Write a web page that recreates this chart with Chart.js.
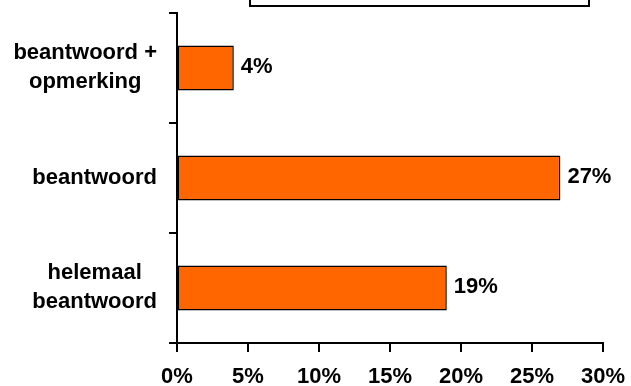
<!DOCTYPE html>
<html>
<head>
<meta charset="utf-8">
<script src="https://cdn.jsdelivr.net/npm/chart.js@4/dist/chart.umd.min.js"></script>
<style>
  html, body { margin: 0; padding: 0; background: #ffffff; }
  canvas { display: block; }
</style>
</head>
<body>
<canvas id="chart" width="631" height="386"></canvas>
<script>
// Answer categories (multi-line labels) and their shares in percent
const categories = [
  ['beantwoord +', 'opmerking'],
  ['beantwoord'],
  ['helemaal', 'beantwoord']
];
const percentages = [4, 27, 19];
const tickValues = [0, 5, 10, 15, 20, 25, 30];

const FONT = '"Liberation Sans", Arial, Helvetica, sans-serif';
const FONT_SIZE = 22;
const BAR_COLOR = '#ff6600';

// Empty framed legend box along the top edge
const legendFrame = {
  id: 'legendFrame',
  afterDraw(chart) {
    const ctx = chart.ctx;
    ctx.save();
    ctx.strokeStyle = '#000';
    ctx.lineWidth = 2;
    ctx.strokeRect(250, -10, 339, 16);
    ctx.restore();
  }
};

// Category labels: each block centred on itself, blocks right-aligned to the axis
const categoryLabels = {
  id: 'categoryLabels',
  afterDraw(chart) {
    const ctx = chart.ctx;
    const yScale = chart.scales.y;
    const right = chart.chartArea.left - 20;
    const lineHeight = 29;
    ctx.save();
    ctx.font = `bold ${FONT_SIZE}px ${FONT}`;
    ctx.fillStyle = '#000';
    ctx.textAlign = 'center';
    ctx.textBaseline = 'middle';
    categories.forEach((lines, i) => {
      const widest = Math.max(...lines.map(l => ctx.measureText(l).width));
      const cx = right - widest / 2;
      const cy = yScale.getPixelForValue(i);
      const startY = cy - (lines.length - 1) * lineHeight / 2 - (lines.length > 1 ? 1 : 0);
      lines.forEach((l, k) => ctx.fillText(l, cx, startY + k * lineHeight));
    });
    ctx.restore();
  }
};

// Value labels to the right of each bar
const valueLabels = {
  id: 'valueLabels',
  afterDatasetsDraw(chart) {
    const ctx = chart.ctx;
    const meta = chart.getDatasetMeta(0);
    ctx.save();
    ctx.font = `bold ${FONT_SIZE}px ${FONT}`;
    ctx.fillStyle = '#000';
    ctx.textAlign = 'left';
    ctx.textBaseline = 'middle';
    meta.data.forEach((bar, i) => {
      ctx.fillText(percentages[i] + '%', bar.x + 7, bar.y - 1);
    });
    ctx.restore();
  }
};

new Chart(document.getElementById('chart'), {
  type: 'bar',
  data: {
    labels: categories,
    datasets: [{
      data: percentages,
      backgroundColor: BAR_COLOR,
      borderColor: '#000',
      borderWidth: 1.5,
      borderSkipped: false,
      categoryPercentage: 1,
      barPercentage: 0.41
    }]
  },
  options: {
    indexAxis: 'y',
    responsive: false,
    animation: false,
    devicePixelRatio: 1,
    layout: { padding: { left: 0, top: 13, right: 28, bottom: 0 } },
    plugins: {
      legend: { display: false },
      tooltip: { enabled: false }
    },
    scales: {
      x: {
        min: tickValues[0],
        max: tickValues[tickValues.length - 1],
        afterBuildTicks(scale) {
          scale.ticks = tickValues.map(v => ({ value: v }));
        },
        ticks: {
          callback: v => v + '%',
          color: '#000',
          font: { family: FONT, size: FONT_SIZE, weight: 'bold' },
          padding: 12,
          maxRotation: 0
        },
        grid: {
          drawOnChartArea: false,
          color: '#000',
          lineWidth: 2,
          tickLength: 9
        },
        border: { color: '#000', width: 2 },
        afterFit(scale) {
          scale.height = 43;
          scale.paddingLeft = 0;
          scale.paddingRight = 0;
        }
      },
      y: {
        ticks: { display: false },
        grid: {
          drawOnChartArea: false,
          offset: true,
          color: '#000',
          lineWidth: 2,
          tickLength: 8
        },
        border: { color: '#000', width: 2 },
        afterFit(scale) { scale.width = 177; }
      }
    }
  },
  plugins: [legendFrame, categoryLabels, valueLabels]
});
</script>
</body>
</html>
